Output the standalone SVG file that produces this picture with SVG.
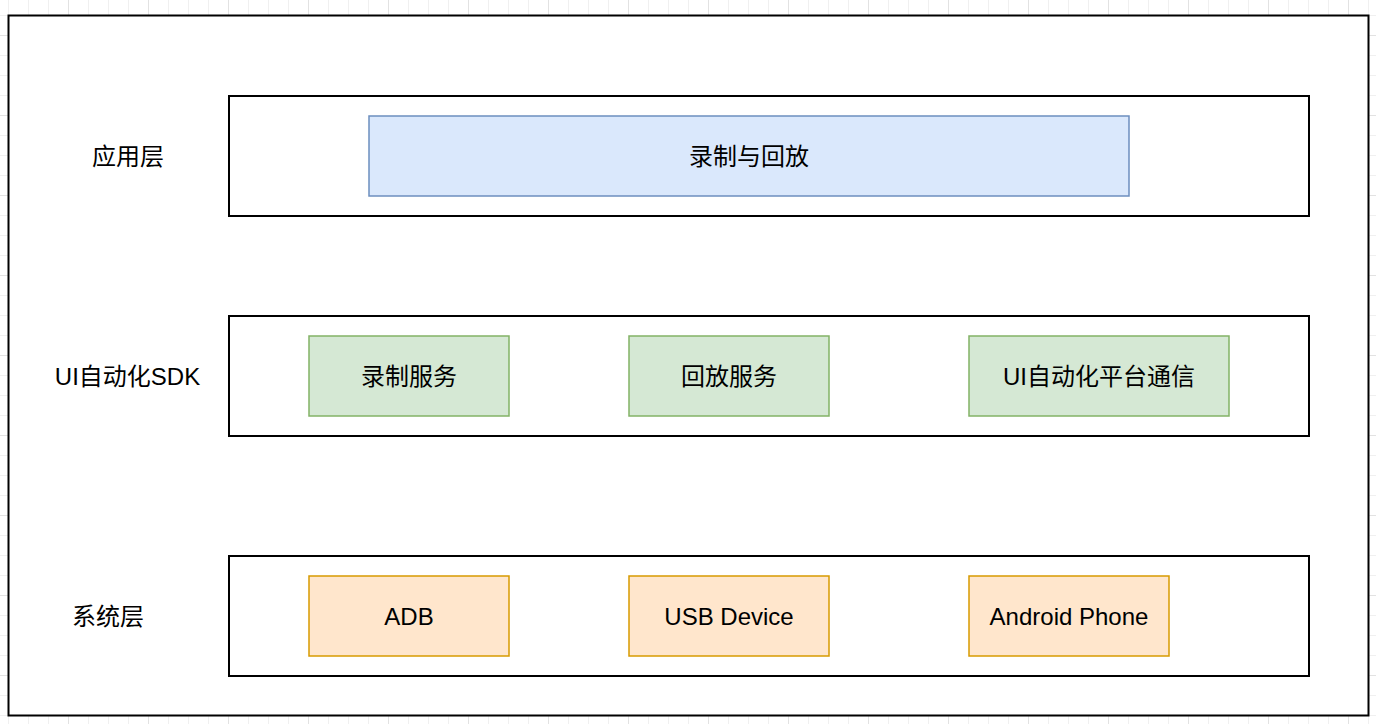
<svg xmlns="http://www.w3.org/2000/svg" width="1376" height="724" viewBox="0 0 1376 724">
  <style>
    .lbl { font-family: "Liberation Sans", Arial, "Noto Sans CJK SC", sans-serif; font-size: 24px; fill: #000000; text-anchor: middle; }
    .layer { fill: #ffffff; stroke: #000000; stroke-width: 2; }
    .blue { fill: #dae8fc; stroke: #6c8ebf; stroke-width: 1.5; }
    .green { fill: #d5e8d4; stroke: #82b366; stroke-width: 1.5; }
    .orange { fill: #ffe6cc; stroke: #d79b00; stroke-width: 1.5; }
  </style>
  <defs>
    <pattern id="grid" x="-12" y="-45" width="80" height="80" patternUnits="userSpaceOnUse">
      <rect x="20" y="0" width="1" height="80" fill="#f0f0f0"/>
      <rect x="40" y="0" width="1" height="80" fill="#f0f0f0"/>
      <rect x="60" y="0" width="1" height="80" fill="#f0f0f0"/>
      <rect x="0" y="20" width="80" height="1" fill="#f0f0f0"/>
      <rect x="0" y="40" width="80" height="1" fill="#f0f0f0"/>
      <rect x="0" y="60" width="80" height="1" fill="#f0f0f0"/>
      <rect x="0" y="0" width="1" height="80" fill="#e2e2e2"/>
      <rect x="0" y="0" width="80" height="1" fill="#e2e2e2"/>
    </pattern>
  </defs>
  <rect x="0" y="0" width="1376" height="724" fill="#ffffff"/>
  <rect x="0" y="0" width="1376" height="724" fill="url(#grid)"/>

  <g id="container">
    <rect x="8.5" y="15.5" width="1360" height="700" fill="#ffffff" stroke="#000000" stroke-width="2"/>
  </g>

  <g id="layer-app">
    <rect class="layer" x="229" y="96" width="1080" height="120"/>
    <text class="lbl" x="128" y="164.5">应用层</text>
  </g>
  <g id="node-record-replay">
    <rect class="blue" x="369" y="116" width="760" height="80"/>
    <text class="lbl" x="749" y="164.5">录制与回放</text>
  </g>

  <g id="layer-sdk">
    <rect class="layer" x="229" y="316" width="1080" height="120"/>
    <text class="lbl" x="127.5" y="384.5">UI自动化SDK</text>
  </g>
  <g id="node-record-service">
    <rect class="green" x="309" y="336" width="200" height="80"/>
    <text class="lbl" x="409" y="384.5">录制服务</text>
  </g>
  <g id="node-replay-service">
    <rect class="green" x="629" y="336" width="200" height="80"/>
    <text class="lbl" x="729" y="384.5">回放服务</text>
  </g>
  <g id="node-platform-comm">
    <rect class="green" x="969" y="336" width="260" height="80"/>
    <text class="lbl" x="1099" y="384.5">UI自动化平台通信</text>
  </g>

  <g id="layer-system">
    <rect class="layer" x="229" y="556" width="1080" height="120"/>
    <text class="lbl" x="108" y="624.5">系统层</text>
  </g>
  <g id="node-adb">
    <rect class="orange" x="309" y="576" width="200" height="80"/>
    <text class="lbl" x="409" y="624.5">ADB</text>
  </g>
  <g id="node-usb">
    <rect class="orange" x="629" y="576" width="200" height="80"/>
    <text class="lbl" x="729" y="624.5">USB Device</text>
  </g>
  <g id="node-android">
    <rect class="orange" x="969" y="576" width="200" height="80"/>
    <text class="lbl" x="1069" y="624.5">Android Phone</text>
  </g>

  <g id="connectors"></g>
</svg>
